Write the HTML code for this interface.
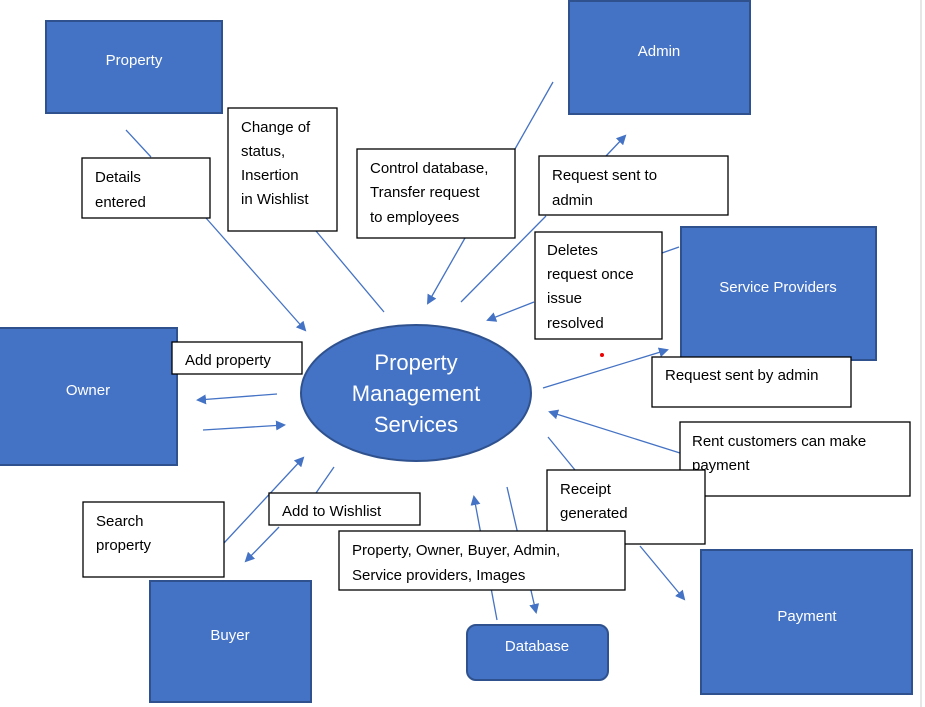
<!DOCTYPE html>
<html><head><style>
body{margin:0;background:#fff;}
svg{display:block;font-family:"Liberation Sans",sans-serif;}
.b{fill:#4472C4;stroke:#2F528F;stroke-width:2}
.w{fill:#fff;stroke:#000;stroke-width:1.3}
.l{stroke:#4472C4;stroke-width:1.3;fill:none}
.t{font-size:15px;fill:#000}
.wt{font-size:15px;fill:#fff;text-anchor:middle}
</style></head><body>
<svg width="925" height="707" viewBox="0 0 925 707">
<defs><marker id="a" markerWidth="10" markerHeight="10" refX="8" refY="5" orient="auto" markerUnits="userSpaceOnUse"><path d="M0,0 L10,5 L0,10 z" fill="#4472C4"/></marker></defs>
<line x1="921" y1="0" x2="921" y2="707" stroke="#ccc" stroke-width="1"/>
<rect class="b" x="46" y="21" width="176" height="92"/><text class="wt" x="134" y="65">Property</text>
<rect class="b" x="569" y="1" width="181" height="113"/><text class="wt" x="659" y="56">Admin</text>
<rect class="b" x="681" y="227" width="195" height="133"/><text class="wt" x="778" y="292">Service Providers</text>
<rect class="b" x="-2" y="328" width="179" height="137"/><text class="wt" x="88" y="395">Owner</text>
<rect class="b" x="150" y="581" width="161" height="121"/><text class="wt" x="230" y="640">Buyer</text>
<rect class="b" x="467" y="625" width="141" height="55" rx="9"/><text class="wt" x="537" y="651">Database</text>
<rect class="b" x="701" y="550" width="211" height="144"/><text class="wt" x="807" y="621">Payment</text>
<ellipse cx="416" cy="393" rx="115" ry="68" fill="#4472C4" stroke="#2F528F" stroke-width="2"/>
<text x="416" y="370" style="font-size:22px;fill:#fff;text-anchor:middle">Property</text>
<text x="416" y="401" style="font-size:22px;fill:#fff;text-anchor:middle">Management</text>
<text x="416" y="432" style="font-size:22px;fill:#fff;text-anchor:middle">Services</text>
<g class="l">
<line x1="126" y1="130" x2="151" y2="157"/>
<line x1="206" y1="218" x2="305" y2="330" marker-end="url(#a)"/>
<line x1="316" y1="231" x2="384" y2="312"/>
<line x1="553" y1="82" x2="515" y2="149"/>
<line x1="465" y1="238" x2="428" y2="303" marker-end="url(#a)"/>
<line x1="606" y1="156" x2="625" y2="136" marker-end="url(#a)"/>
<line x1="546" y1="216" x2="461" y2="302"/>
<line x1="679" y1="247" x2="662" y2="253"/>
<line x1="534" y1="302" x2="488" y2="320" marker-end="url(#a)"/>
<line x1="543" y1="388" x2="667" y2="350" marker-end="url(#a)"/>
<line x1="680" y1="453" x2="550" y2="412" marker-end="url(#a)"/>
<line x1="548" y1="437" x2="575" y2="470"/>
<line x1="640" y1="546" x2="684" y2="599" marker-end="url(#a)"/>
<line x1="497" y1="620" x2="474" y2="497" marker-end="url(#a)"/>
<line x1="507" y1="487" x2="536" y2="612" marker-end="url(#a)"/>
<line x1="277" y1="394" x2="198" y2="400" marker-end="url(#a)"/>
<line x1="203" y1="430" x2="284" y2="425" marker-end="url(#a)"/>
<line x1="224" y1="543" x2="303" y2="458" marker-end="url(#a)"/>
<line x1="334" y1="467" x2="316" y2="493"/>
<line x1="279" y1="527" x2="246" y2="561" marker-end="url(#a)"/>
</g>
<circle cx="602" cy="355" r="2" fill="#e00"/>
<rect class="w" x="82" y="158" width="128" height="60"/><text class="t" x="95" y="182">Details</text><text class="t" x="95" y="207">entered</text>
<rect class="w" x="228" y="108" width="109" height="123"/><text class="t" x="241" y="132">Change of</text><text class="t" x="241" y="156">status,</text><text class="t" x="241" y="180">Insertion</text><text class="t" x="241" y="204">in Wishlist</text>
<rect class="w" x="357" y="149" width="158" height="89"/><text class="t" x="370" y="173">Control database,</text><text class="t" x="370" y="197">Transfer request</text><text class="t" x="370" y="222">to employees</text>
<rect class="w" x="539" y="156" width="189" height="59"/><text class="t" x="552" y="180">Request sent to</text><text class="t" x="552" y="205">admin</text>
<rect class="w" x="535" y="232" width="127" height="107"/><text class="t" x="547" y="255">Deletes</text><text class="t" x="547" y="279">request once</text><text class="t" x="547" y="303">issue</text><text class="t" x="547" y="328">resolved</text>
<rect class="w" x="172" y="342" width="130" height="32"/><text class="t" x="185" y="365">Add property</text>
<rect class="w" x="652" y="357" width="199" height="50"/><text class="t" x="665" y="380">Request sent by admin</text>
<rect class="w" x="680" y="422" width="230" height="74"/><text class="t" x="692" y="446">Rent customers can make</text><text class="t" x="692" y="470">payment</text>
<rect class="w" x="547" y="470" width="158" height="74"/><text class="t" x="560" y="494">Receipt</text><text class="t" x="560" y="518">generated</text>
<rect class="w" x="269" y="493" width="151" height="32"/><text class="t" x="282" y="516">Add to Wishlist</text>
<rect class="w" x="83" y="502" width="141" height="75"/><text class="t" x="96" y="526">Search</text><text class="t" x="96" y="550">property</text>
<rect class="w" x="339" y="531" width="286" height="59"/><text class="t" x="352" y="555">Property, Owner, Buyer, Admin,</text><text class="t" x="352" y="580">Service providers, Images</text>
</svg>
</body></html>
